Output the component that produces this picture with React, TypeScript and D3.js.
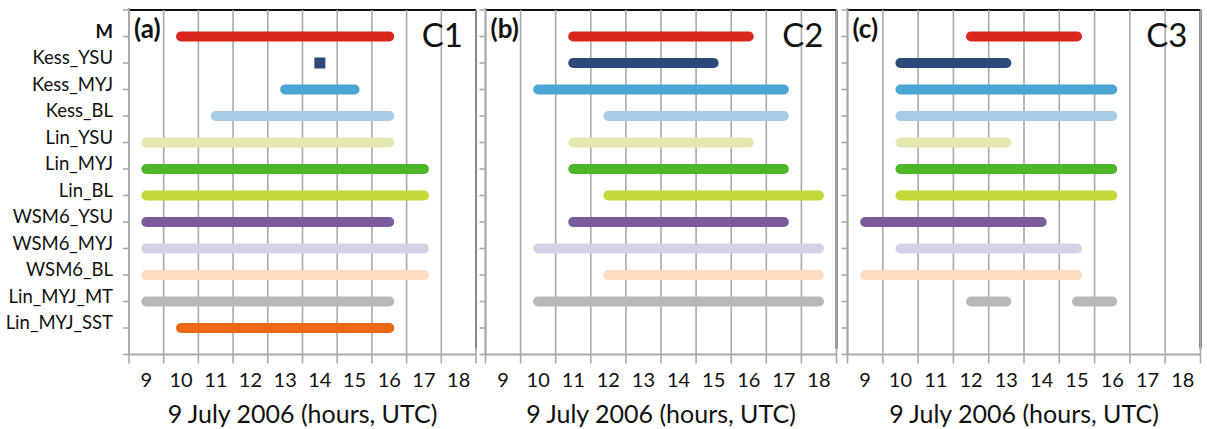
// Model rain-event timing chart: three panels (C1, C2, C3)
import React from 'react';
import * as d3 from 'd3';

const models = [
  'M', 'Kess_YSU', 'Kess_MYJ', 'Kess_BL', 'Lin_YSU', 'Lin_MYJ',
  'Lin_BL', 'WSM6_YSU', 'WSM6_MYJ', 'WSM6_BL', 'Lin_MYJ_MT', 'Lin_MYJ_SST',
];

const colors = [
  '#d9261c', '#2b4a7a', '#4ba6d6', '#a7cce7', '#e5e6b0', '#4db827',
  '#c4d938', '#7b5b9c', '#d5d0e5', '#fcdcc2', '#b7b7b8', '#ea6814',
];

const hours = [9, 10, 11, 12, 13, 14, 15, 16, 17, 18];

// [start hour, end hour] segments per model (same order as models)
const segC1: number[][][] = [
  [[10, 16]], [[14, 14]], [[13, 15]], [[11, 16]], [[9, 16]], [[9, 17]],
  [[9, 17]], [[9, 16]], [[9, 17]], [[9, 17]], [[9, 16]], [[10, 16]],
];
const segC2: number[][][] = [
  [[11, 16]], [[11, 15]], [[10, 17]], [[12, 17]], [[11, 16]], [[11, 17]],
  [[12, 18]], [[11, 17]], [[10, 18]], [[12, 18]], [[10, 18]], [],
];
const segC3: number[][][] = [
  [[12, 15]], [[10, 13]], [[10, 16]], [[10, 16]], [[10, 13]], [[10, 16]],
  [[10, 16]], [[9, 14]], [[10, 15]], [[9, 15]], [[12, 13], [15, 16]], [],
];

const panels = [
  { tag: '(a)', name: 'C1', segs: segC1, x0: 129, x1: 476 },
  { tag: '(b)', name: 'C2', segs: segC2, x0: 485.5, x1: 836.5 },
  { tag: '(c)', name: 'C3', segs: segC3, x0: 847.5, x1: 1200.5 },
];

const W = 1207;
const H = 429;
const top = 10;
const bottom = 354.5;
const font = 'Lato, "Open Sans", sans-serif';
const gridColor = '#a9a9a9';

const y = d3.scaleLinear().domain([0, 13]).range([bottom, top]);

const Panel: React.FC<{ p: typeof panels[number] }> = ({ p }) => {
  const x = d3.scaleBand<number>().domain(hours).range([p.x0, p.x1]).padding(0);
  const cx = (h: number) => (x(h) as number) + x.bandwidth() / 2;
  const edges = hours.map(h => x(h) as number).concat([p.x1]);
  return (
    <g>
      {/* black frame top/right */}
      <line x1={p.x0} x2={p.x1} y1={top} y2={top} stroke="#111" strokeWidth={2} />
      <line x1={p.x1} x2={p.x1} y1={top} y2={bottom - 6} stroke="#111" strokeWidth={2} />
      {/* vertical gridlines + x ticks */}
      {edges.map((e, i) => (
        <line key={'g' + i} x1={e} x2={e} y1={top} y2={bottom + 9} stroke={gridColor} strokeWidth={1.6} />
      ))}
      {/* y ticks */}
      {d3.range(0, 14).map(v => (
        <line key={'t' + v} x1={p.x0 - 6} x2={p.x0} y1={y(v)} y2={y(v)} stroke={gridColor} strokeWidth={1.6} />
      ))}
      <line x1={p.x0} x2={p.x1} y1={bottom} y2={bottom} stroke={gridColor} strokeWidth={2} />
      <line x1={p.x0} x2={p.x0} y1={top - 2} y2={bottom} stroke={gridColor} strokeWidth={2} />
      {/* segments */}
      {p.segs.map((list, mi) =>
        list.map((s, si) => {
          const yy = y(12 - mi);
          if (s[0] === s[1]) {
            return (
              <rect key={mi + '-' + si} x={cx(s[0]) - 5.5} y={yy - 5.5} width={11} height={11} fill={colors[mi]} />
            );
          }
          return (
            <line key={mi + '-' + si} x1={cx(s[0])} x2={cx(s[1])} y1={yy} y2={yy}
              stroke={colors[mi]} strokeWidth={10} strokeLinecap="round" />
          );
        })
      )}
      {/* tick labels */}
      {hours.map(h => (
        <text key={'l' + h} x={cx(h)} y={387} textAnchor="middle" fontSize={20} fontFamily={font} fill="#111">{h}</text>
      ))}
      <text x={(p.x0 + p.x1) / 2} y={423} textAnchor="middle" fontSize={25} fontFamily={font} fill="#111">
        9 July 2006 (hours, UTC)
      </text>
      <text x={p.x0 + 5} y={38} fontSize={26} fontWeight="bold" fontFamily={font} fill="#111">{p.tag}</text>
      <text x={p.x1 - 13} y={47} textAnchor="end" fontSize={33} fontFamily={font} fill="#111">{p.name}</text>
    </g>
  );
};

export default function App() {
  return (
    <div style={{ position: 'absolute', left: 0, top: 0 }}>
      <svg width={W} height={H} style={{ display: 'block', background: '#fff' }}>
        {models.map((m, i) => (
          <text key={m} x={113} y={y(12 - i) + 1} textAnchor="end" fontSize={18.5}
            fontWeight={m === 'M' ? 'bold' : 'normal'} fontFamily={font} fill="#111">{m}</text>
        ))}
        {panels.map(p => <Panel key={p.name} p={p} />)}
      </svg>
    </div>
  );
}
